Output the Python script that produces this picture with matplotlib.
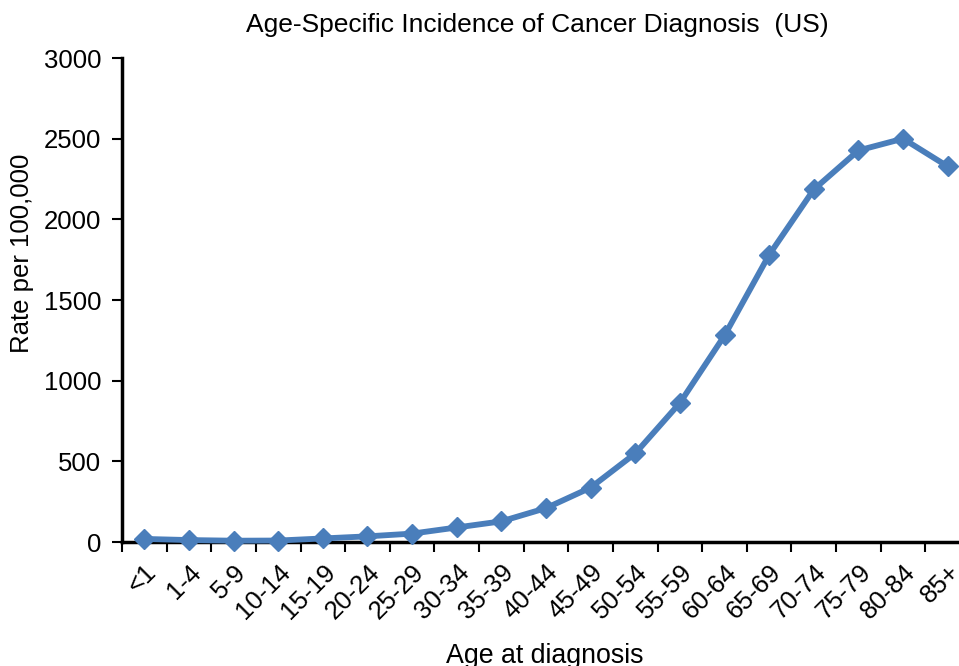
import matplotlib
matplotlib.use("Agg")
import matplotlib.pyplot as plt

plt.rcParams['font.family'] = ['Liberation Sans', 'DejaVu Sans']

age_groups = ['<1', '1-4', '5-9', '10-14', '15-19', '20-24', '25-29', '30-34',
              '35-39', '40-44', '45-49', '50-54', '55-59', '60-64', '65-69',
              '70-74', '75-79', '80-84', '85+']
rates = [19, 12, 8, 9, 22, 35, 52, 90, 128, 210, 337, 549, 862, 1280, 1780,
         2185, 2427, 2500, 2328]
y_ticks = [0, 500, 1000, 1500, 2000, 2500, 3000]

fig = plt.figure(figsize=(9.59, 6.66), dpi=100)
ax = fig.add_axes([122/959, 1-542/666, (970-122)/959, (542-58)/666])

x = list(range(len(age_groups)))
ax.plot(x, rates, color='#4a7ebb', linewidth=4.2, marker='D', markersize=10.5,
        markeredgecolor='#4a7ebb', markerfacecolor='#4a7ebb', clip_on=False, zorder=3)

ax.set_xlim(-0.5, len(age_groups) - 0.5)
ax.set_ylim(0, 3000)
ax.set_yticks(y_ticks)
ax.set_yticklabels([str(v) for v in y_ticks], fontsize=18.5)
ax.set_xticks([i - 0.5 for i in range(len(age_groups) + 1)])
ax.set_xticklabels([])
ax.set_xticks(x, minor=True)
ax.set_xticklabels(age_groups, minor=True, rotation=45, ha='right',
                   rotation_mode='anchor', fontsize=18.5)
ax.tick_params(axis='x', which='minor', length=0, pad=13)
ax.tick_params(axis='x', which='major', length=7, width=1.5, direction='out')
ax.tick_params(axis='y', length=7, width=1.5, direction='out', pad=8)

for s in ['top', 'right']:
    ax.spines[s].set_visible(False)
for s in ['left', 'bottom']:
    ax.spines[s].set_linewidth(2.5)

fig.text(537/959, 1-25/666, 'Age-Specific Incidence of Cancer Diagnosis  (US)',
         ha='center', va='center', fontsize=19)
fig.text(545/959, 1-656/666, 'Age at diagnosis', ha='center', va='center', fontsize=19.3)
fig.text(22/959, 1-253/666, 'Rate per 100,000', ha='center', va='center',
         rotation=90, fontsize=18.5)

fig.savefig('out.png', dpi=100)
